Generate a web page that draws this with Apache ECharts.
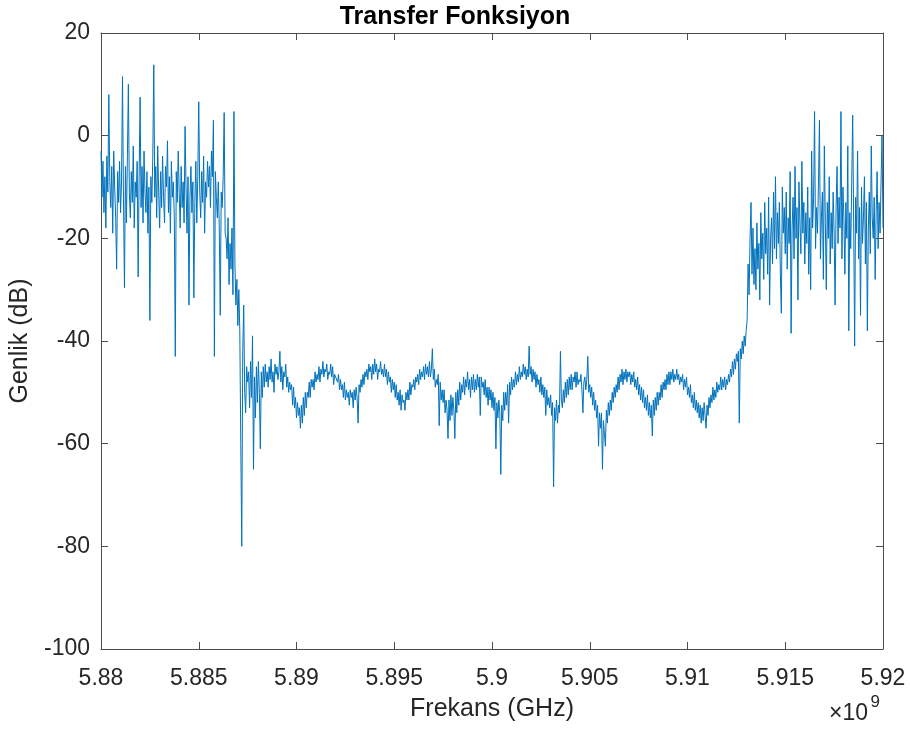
<!DOCTYPE html>
<html>
<head>
<meta charset="utf-8">
<script src="https://cdn.jsdelivr.net/npm/echarts@6/dist/echarts.min.js"></script>
<style>
  html, body { margin: 0; padding: 0; background: #fff; }
  #chart { width: 910px; height: 731px; }
</style>
</head>
<body>
<div id="chart"></div>
<script>
// Frequency sweep: start and step of the measured points (Hz)
const freqStartHz = 5.88e9;
const freqStepHz = 5e4;

// Magnitude (dB): lower passband incl. the falling edge
const lowerBandDb = [
  -3, -12, -5, -15, -8, -18, -4, -11, 8, -9,
  -14, -6, -19, -3, -10, -16, -26, -7, -13, -5,
  -15, -9, 11.5, -12, -29.6, -6, -17, -4, 10, -11,
  -16, -7, -13, -2, -18, -9, -12, -5, -27.5, -8,
  7.5, -14, -6, -17, -3, -11, -15, -7, -19, -10,
  -36, -8, -13, -4, 13.8, -12, -6, -16, -2, -11,
  -18, -7, -14, -4, -12, -17, -6, -10, -1, -15,
  -8, -19, -5, -12, -9, -16, -43, -7, -13, -3,
  -11, -18, -6, -14, -9, -17, 1.8, -10, -19, -8,
  -33, -12, -6, -15, -9, -31.6, -13, -5, -17, -8,
  6.6, -11, -16, -7, -13, -4, -19, -9, -12, -5,
  -10, -6, -14, -3, -8, 3, -43, -7, -12, -16,
  -9, -18, -35, -11, -14, -8, 4.5, -19, -20, -24,
  -16, -29, -21, -26, -18, -31, 4.7, -25, -33, -28,
  -37,
  -30, -38, -60, -80, -42, -33, -50, -54, -45, -48
];

// Magnitude (dB): stopband with its ripple
const stopBandDb = [
  -46, -53, -44, -51, -39, -65, -47, -55, -45, -52,
  -44, -50, -61, -46, -51, -45, -49, -44.5, -48, -46,
  -49, -45, -47.5, -43.5, -48, -46, -50, -44.5, -46.5, -45,
  -47.5, -46, -42, -48, -45, -49.5, -46, -47, -44.5, -49,
  -47, -50, -48, -49.5, -48.5, -52.5, -49, -53, -51, -55,
  -52, -54.5, -53, -57, -52.5, -56, -51, -54.5, -50, -53,
  -50, -51, -48, -51, -47.5, -49, -47.5, -49.5, -46, -48,
  -46.5, -47.5, -45, -48, -45.5, -46.5, -44, -47, -45.5, -46,
  -44.5, -47.5, -46, -46.5, -44.5, -47, -45, -48.5, -46.5, -47,
  -47, -48, -46.5, -49.5, -47.5, -49.5, -48.5, -51, -48, -51.5,
  -49.5, -51, -50, -52.5, -49.5, -51, -50, -53, -49.5, -51.5,
  -49, -51, -56, -48.5, -50, -47.5, -49, -46.5, -48.5, -46,
  -47, -45.5, -47.5, -44.5, -46, -45, -47.5, -44.5, -46.5, -43.5,
  -46, -44.5, -47.5, -45.5, -46, -44, -46.5, -45.5, -47, -44.5,
  -47, -45.5, -48.5, -46, -48, -47, -50, -47.5, -49.5, -48,
  -51, -48.5, -51.5, -50, -52.5, -49.5, -53.5, -50.5, -52, -51.5,
  -53.5, -50, -51.5, -49.5, -51.5, -48, -50.5, -48.5, -49, -47.5,
  -49.5, -47, -48, -46.5, -48.5, -45.5, -47.5, -46, -47, -45,
  -47.5, -44.5, -46.5, -45, -47, -44, -47, -45.5, -41.5, -47.5,
  -45.5, -49, -47.5, -48.5, -46.5, -56.5, -48, -51.5, -49.5, -52,
  -49.5, -54, -51.5, -53.5, -59, -51.5, -55.5, -50.5, -54.5, -51,
  -53.5, -59, -50, -54, -49.5, -52.5, -48, -51.5, -48.5, -50,
  -47, -50.5, -47.5, -49, -46, -49.5, -47.5, -51, -47, -49.5,
  -46.5, -50, -47.5, -49.5, -46.5, -49, -47, -54.5, -47, -49,
  -48, -50.5, -47.5, -51, -49, -52.5, -49, -51.5, -49.5, -53,
  -50, -53.5, -51, -61, -52, -55, -51.5, -54, -66, -52.5,
  -55.5, -50, -53.5, -50, -52.5, -48.5, -56, -48, -50.5, -47,
  -49.5, -47.5, -49, -46, -48.5, -46.5, -48, -45, -47.5, -46,
  -47, -44.5, -46.5, -45, -47.5, -45.5, -47, -41, -46.5, -45,
  -48, -45.5, -47.5, -46, -49, -46.5, -48.5, -47.5, -50, -47,
  -50.5, -48.5, -51, -49, -54.5, -49.5, -52.5, -51, -53, -50.5,
  -54.5, -52, -68.4, -53, -55.5, -51.5, -56, -52.5, -54, -42,
  -51.5, -53, -49.5, -52, -48, -51, -47.5, -50.5, -47, -49.5,
  -46.5, -49.5, -47, -48, -46, -49, -46, -48.5, -47.5, -48,
  -46.5, -49.5, -54, -48, -47, -49.5, -47.5, -43, -50, -48.5,
  -51, -49, -52.5, -50, -53.5, -51.5, -55, -52.5, -60.5, -54,
  -57, -54, -65, -55.5, -58, -60.5, -53.5, -56, -52, -54.5,
  -51.5, -53.5, -50, -52, -49, -51, -48.5, -50, -47, -49.5,
  -46.5, -48, -45.5, -48.5, -46, -47.5, -45.5, -48, -46, -47,
  -46, -48.5, -46.5, -48, -46, -49, -47.5, -49.5, -47, -50.5,
  -48.5, -51.5, -49, -52, -49.5, -53, -51, -53.5, -50.5, -54.5,
  -52, -55, -52.5, -58.5, -51.5, -54.5, -51, -53.5, -50, -52.5,
  -50, -51.5, -48.5, -51, -48, -49.5, -47.5, -49.5, -46.5, -48.5,
  -46, -48.5, -46, -47.5, -45.5, -48, -46.5, -47.5, -45.5, -47.5,
  -46.5, -48.5, -47, -48, -46.5, -49.5, -47.5, -49, -47, -50.5,
  -49, -51, -48.5, -52, -50.5, -53, -50, -53.5, -51.5, -54,
  -52, -55, -52.5, -56, -53, -55.5, -52, -54.5, -57, -52.5,
  -54.5, -51, -53, -50.5, -52, -49, -51.5, -49.5, -51, -48,
  -50, -48.5, -49.5, -47, -49.5, -47.5, -49, -47, -49.5, -47.5,
  -48.5, -46.5, -48, -45.5, -47, -44, -46.5, -43.5, -45.5, -42.5,
  -44, -42, -56, -41.5, -43.5, -40, -42.5, -39, -41, -38
];

// Magnitude (dB): upper passband incl. the rising edge
const upperBandDb = [
  -36, -25, -31, -20, -13, -27, -18, -29, -22, -30,
  -17, -26, -21, -32, -15, -24, -19, -28, -13, -23,
  -18, -27, -12, -33, -20, -16, -25, -11, -22, -8,
  -24, -15, -21, -13, -27, -34.6, -10, -19, -14, -23,
  -11, -26, -16, -21, -7, -38.5, -18, -12, -24, -6,
  -20, -14, -32, -9, -17, -23, -5, -19, -13, -25,
  -15, -21, -10, -27, -16, -30, -3, -18, -12, 4.7,
  -22, -14, -19, -9, 3, -24, -16, -11, -28, -2,
  -17, -30, -13, -20, -8, -25, -15, -22, -11, -19,
  -33, -14, -6, -21, -12, -18, 4.7, -24, -10, -16,
  -27, -13, -20, -2, -38, -15, -22, -9, 4, -17,
  -41, -12, -19, -3, -24, -14, -35, -10, -21, -16,
  -8, -25, -13, -38, -18, -11, -23, -2, -16, -20,
  -12, -28, -15, -7, -22, -13, -19, -9, 0, -18
];

// Axis ranges and ticks
const xMinHz = 5.88e9, xMaxHz = 5.92e9, xTickHz = 5e6;
const yMinDb = -100, yMaxDb = 20, yTickDb = 20;

const magnitudeDb = lowerBandDb.concat(stopBandDb, upperBandDb);
const points = magnitudeDb.map((v, i) => [freqStartHz + i * freqStepHz, v]);

const FONT = '"Liberation Sans", Arial, Helvetica, sans-serif';
const TXT = '#262626';
const AX = '#4d4d4d';

const chart = echarts.init(document.getElementById('chart'), null, { renderer: 'canvas' });

const tickStyle = { show: true, inside: true, length: 7, lineStyle: { color: AX, width: 1 } };
const lineStyleAx = { show: true, onZero: false, lineStyle: { color: AX, width: 1 } };

chart.setOption({
  animation: false,
  backgroundColor: '#ffffff',
  title: {
    text: 'Transfer Fonksiyon',
    left: 'center',
    top: 0,
    textStyle: { fontFamily: FONT, fontSize: 25, fontWeight: 'bold', color: '#000' }
  },
  grid: { left: 101, right: 27, top: 33, bottom: 82, containLabel: false },
  xAxis: [
    {
      type: 'value', min: xMinHz, max: xMaxHz, interval: xTickHz,
      position: 'bottom',
      name: 'Frekans (GHz)', nameLocation: 'middle', nameGap: 48,
      nameTextStyle: { fontFamily: FONT, fontSize: 25, color: TXT },
      axisLine: lineStyleAx, axisTick: tickStyle,
      axisLabel: {
        fontFamily: FONT, fontSize: 23, color: TXT, margin: 18,
        formatter: v => String(Number((v / 1e9).toFixed(3)))
      },
      splitLine: { show: false }
    },
    {
      type: 'value', min: xMinHz, max: xMaxHz, interval: xTickHz,
      position: 'top',
      axisLine: lineStyleAx, axisTick: tickStyle,
      axisLabel: { show: false }, splitLine: { show: false }
    }
  ],
  yAxis: [
    {
      type: 'value', min: yMinDb, max: yMaxDb, interval: yTickDb,
      position: 'left',
      name: 'Genlik (dB)', nameLocation: 'middle', nameGap: 62,
      nameTextStyle: { fontFamily: FONT, fontSize: 25, color: TXT },
      axisLine: lineStyleAx, axisTick: tickStyle,
      axisLabel: { fontFamily: FONT, fontSize: 23, color: TXT, margin: 11 },
      splitLine: { show: false }
    },
    {
      type: 'value', min: yMinDb, max: yMaxDb, interval: yTickDb,
      position: 'right',
      axisLine: lineStyleAx, axisTick: tickStyle,
      axisLabel: { show: false }, splitLine: { show: false }
    }
  ],
  series: [{
    type: 'line',
    data: points,
    xAxisIndex: 0, yAxisIndex: 0,
    showSymbol: false, symbol: 'none',
    sampling: null,
    lineStyle: { color: '#0072BD', width: 1 },
    silent: true
  }],
  graphic: [
    {
      type: 'text', right: 42, bottom: 6,
      style: { text: '×10', font: '23px ' + FONT, fill: TXT }
    },
    {
      type: 'text', right: 30, bottom: 20,
      style: { text: '9', font: '17px ' + FONT, fill: TXT }
    }
  ]
});
</script>
</body>
</html>
